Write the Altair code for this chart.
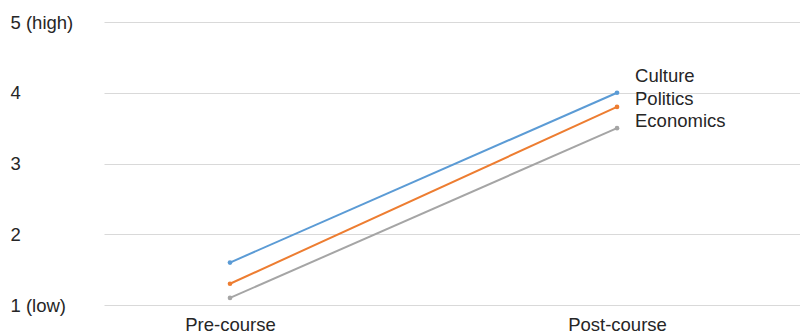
import altair as alt
import pandas as pd

stages = ["Pre-course", "Post-course"]
series = ["Culture", "Politics", "Economics"]
culture = [1.6, 4.0]
politics = [1.3, 3.8]
economics = [1.1, 3.5]
colors = ["#5B9BD5", "#ED7D31", "#A5A5A5"]
y_ticks = [1, 2, 3, 4, 5]

rows = []
for name, vals in zip(series, [culture, politics, economics]):
    for st, v in zip(stages, vals):
        rows.append({"stage": st, "series": name, "value": v})
df = pd.DataFrame(rows)

FONT = "Liberation Sans"
TXT = "#262626"

xscale = alt.Scale(type="point", domain=stages, padding=0.3992, align=0.4078)
yscale = alt.Scale(domain=[1, 5], nice=False, zero=False)

x = alt.X("stage:O", sort=stages, title=None, scale=xscale,
          axis=alt.Axis(labelAngle=0, labelFontSize=18.5, labelFont=FONT, labelColor=TXT,
                        domain=False, ticks=False, labelPadding=10, labelBaseline="top"))
y = alt.Y("value:Q", title=None, scale=yscale,
          axis=alt.Axis(values=y_ticks, format="d", labelFontSize=18.5, labelFont=FONT, labelColor=TXT,
                        labelAlign="left", labelPadding=94, domain=False, ticks=False,
                        grid=True, gridColor="#D9D9D9", gridWidth=1,
                        labelExpr="datum.value == 5 ? '5 (high)' : datum.value == 1 ? '1 (low)' : datum.label"))
color = alt.Color("series:N", scale=alt.Scale(domain=series, range=colors), legend=None)

lines = alt.Chart(df).mark_line(strokeWidth=2).encode(x=x, y=y, color=color)
points = alt.Chart(df).mark_point(filled=True, size=22, opacity=1).encode(x=x, y=y, color=color)

label_dy = {"Culture": -17, "Politics": -8, "Economics": -7}
texts = []
post = df[df["stage"] == "Post-course"]
for name in series:
    texts.append(
        alt.Chart(post[post["series"] == name]).mark_text(
            align="left", baseline="middle", dx=18, dy=label_dy[name],
            fontSize=18.5, font=FONT, color=TXT
        ).encode(x=alt.X("stage:O", sort=stages, scale=xscale),
                 y=alt.Y("value:Q", scale=yscale),
                 text="series:N")
    )

chart = alt.layer(lines, points, *texts).properties(
    width=696, height=283,
    autosize=alt.AutoSizeParams(type="none"),
    padding={"left": 104, "top": 22, "right": 0, "bottom": 29},
    background="white",
).configure_view(stroke=None)

chart.save("out.html", embed_options={"renderer": "svg", "actions": False})
